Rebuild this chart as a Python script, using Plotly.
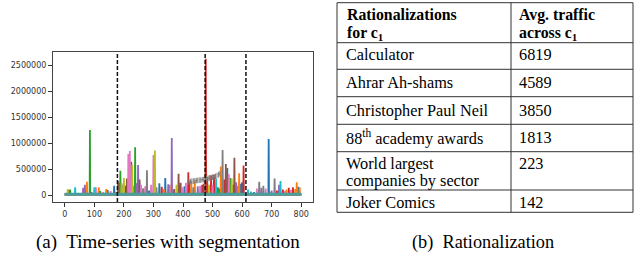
import plotly.graph_objects as go

W, H = 644, 258

# ---------------- time-series data (spike positions / heights per colour) ----------
blue_x = [145, 167, 285, 320, 340, 405, 422, 482, 518, 550, 595, 600, 640, 690, 790]
blue_y = [100000, 180000, 90000, 230000, 330000, 170000, 270000, 350000, 150000, 520000, 220000, 250000, 60000, 1080000, 160000]
orange_x = [75, 115, 140, 233, 335, 355, 428, 440, 528, 585, 590, 750, 780, 785, 795]
orange_y = [260000, 150000, 120000, 180000, 120000, 200000, 260000, 270000, 550000, 180000, 420000, 110000, 120000, 250000, 150000]
green_x = [18, 85, 120, 183, 188, 238, 478, 522, 560]
green_y = [110000, 1250000, 80000, 240000, 470000, 920000, 670000, 130000, 330000]
red_x = [175, 205, 328, 418, 465, 477, 495, 505, 540, 570, 605, 695, 718, 738, 758, 772]
red_y = [60000, 180000, 160000, 440000, 200000, 2620000, 380000, 390000, 300000, 200000, 570000, 50000, 90000, 110000, 140000, 150000]
purple_x = [62, 68, 197, 243, 248, 350, 362, 450, 580, 665, 700, 725]
purple_y = [140000, 200000, 200000, 230000, 580000, 210000, 1100000, 170000, 250000, 140000, 90000, 200000]
brown_x = [14, 90, 180, 210, 225, 253, 370, 385, 392, 470, 545, 574]
brown_y = [100000, 60000, 270000, 320000, 640000, 300000, 120000, 410000, 240000, 220000, 600000, 720000]
pink_x = [105, 130, 155, 215, 220, 258, 272, 292, 300, 398, 410, 458, 500, 555, 650, 680, 745, 765]
pink_y = [150000, 60000, 80000, 790000, 850000, 200000, 170000, 200000, 770000, 150000, 240000, 180000, 200000, 400000, 130000, 130000, 80000, 100000]
gray_x = [265, 278, 310, 435, 534, 658, 672, 710]
gray_y = [130000, 480000, 150000, 150000, 870000, 260000, 180000, 320000]
olive_x = [10, 192, 200, 228, 305, 378, 488, 565]
olive_y = [120000, 230000, 330000, 580000, 860000, 200000, 200000, 320000]
cyan_x = [35, 100, 512, 620, 630, 730]
cyan_y = [150000, 150000, 320000, 110000, 70000, 270000]

# slowly rising grey stretch around the middle boundary
trend_x = [420, 425, 430, 435, 440, 445, 450, 455, 460, 465, 470, 475, 480, 485, 490, 495, 500, 505, 510, 515, 520, 525]
trend_y = [255000, 262000, 268000, 270000, 276000, 280000, 283000, 287000, 290000, 296000, 300000, 310000, 318000, 325000, 332000, 338000, 345000, 352000, 362000, 375000, 395000, 412000]

segment_bounds = [178, 475, 613]

x_ticks = [0, 100, 200, 300, 400, 500, 600, 700, 800]
y_ticks = [0, 500000, 1000000, 1500000, 2000000, 2500000]
y_tick_labels = [str(v) for v in y_ticks]

# ---------------- table data ----------------
table_head_1 = ["Rationalizations", "for c<sub>1</sub>"]
table_head_2 = ["Avg. traffic", "across c<sub>1</sub>"]
rat_names = ["Calculator", "Ahrar Ah-shams", "Christopher Paul Neil",
             "88<sup>th</sup> academy awards", "World largest<br>companies by sector", "Joker Comics"]
rat_traffic = [6819, 4589, 3850, 1813, 223, 142]

captions = ["(a)  Time-series with segmentation", "(b)  Rationalization"]

# ---------------- build figure ----------------
series = [
    (blue_x, blue_y, "#1f77b4", 8000),
    (orange_x, orange_y, "#ff7f0e", 12000),
    (green_x, green_y, "#2ca02c", 16000),
    (red_x, red_y, "#d62728", 10000),
    (purple_x, purple_y, "#9467bd", 14000),
    (brown_x, brown_y, "#8c564b", 18000),
    (pink_x, pink_y, "#e377c2", 9000),
    (gray_x, gray_y, "#7f7f7f", 22000),
    (olive_x, olive_y, "#bcbd22", 15000),
    (cyan_x, cyan_y, "#17becf", 26000),
]

fig = go.Figure()


def spike_line(xs, ys, base):
    px, py = [0], [base]
    for x, y in sorted(zip(xs, ys)):
        px += [x - 1, x, x + 1]
        py += [base, y, base]
    px.append(800)
    py.append(base)
    return px, py


for xs, ys, col, base in series:
    px, py = spike_line(xs, ys, base)
    fig.add_trace(go.Scatter(x=px, y=py, mode="lines", line=dict(color=col, width=1.8),
                             showlegend=False, hoverinfo="skip"))

fig.add_trace(go.Scatter(x=trend_x, y=trend_y, mode="lines+markers",
                         line=dict(color="#7f7f7f", width=1.2, dash="dot"),
                         marker=dict(symbol="line-ns", size=4, line=dict(color="#7f7f7f", width=1)),
                         showlegend=False, hoverinfo="skip"))

# teal base band
fig.add_trace(go.Scatter(x=[0, 800], y=[20000, 20000], mode="lines",
                         line=dict(color="#4a9f9c", width=3), showlegend=False, hoverinfo="skip"))

for b in segment_bounds:
    fig.add_shape(type="line", xref="x", yref="y domain", x0=b, x1=b, y0=0, y1=1,
                  line=dict(color="#111111", width=1.5, dash="4px,2px"))

all_y = [v for s in series for v in s[1]] + trend_y + [0]
ymax, ymin = max(all_y), min(all_y)
pad = (ymax - ymin) * 0.05

px0, px1, py0, py1 = 53, 313, 52, 202
fig.update_layout(
    width=W, height=H, margin=dict(l=0, r=0, t=0, b=0, pad=0),
    paper_bgcolor="white", plot_bgcolor="white",
    xaxis=dict(domain=[px0 / W, px1 / W], range=[-40, 840], tickvals=x_ticks, automargin=False,
               ticks="outside", ticklen=4, tickcolor="#333", showgrid=False, zeroline=False,
               showline=True, mirror=True, linecolor="#444", linewidth=1,
               tickfont=dict(family="DejaVu Sans", size=8, color="#333")),
    yaxis=dict(domain=[1 - py1 / H, 1 - py0 / H], range=[ymin - pad, ymax + pad],
               tickvals=y_ticks, ticktext=y_tick_labels, automargin=False,
               ticks="outside", ticklen=4, tickcolor="#333", showgrid=False, zeroline=False,
               showline=True, mirror=True, linecolor="#444", linewidth=1,
               tickfont=dict(family="DejaVu Sans", size=8, color="#333")),
)

# ---------------- table drawn with shapes + text ----------------
tl, tr, tc = 337, 633, 511
row_lines = [2.7, 42.7, 69.3, 96.7, 124.3, 151.7, 190, 212.3]


def P(x, y):
    return x / W, 1 - y / H


line_style = dict(color="#333333", width=1)
for y in row_lines:
    x0, yy = P(tl, y)
    x1, _ = P(tr, y)
    fig.add_shape(type="line", xref="paper", yref="paper", x0=x0, x1=x1, y0=yy, y1=yy, line=line_style)
for x in [tl, tc, tr]:
    xx, y0 = P(x, row_lines[0])
    _, y1 = P(x, row_lines[-1])
    fig.add_shape(type="line", xref="paper", yref="paper", x0=xx, x1=xx, y0=y0, y1=y1, line=line_style)

serif = "Liberation Serif"


def txt(x, y, s, size=16.3, bold=False):
    xx, yy = P(x, y)
    fig.add_annotation(x=xx, y=yy, xref="paper", yref="paper", text=("<b>%s</b>" % s) if bold else s,
                       showarrow=False, xanchor="left", yanchor="middle", borderpad=0,
                       font=dict(family=serif, size=size, color="black"))


head_y = [15, 33]
for i in range(2):
    txt(346, head_y[i], table_head_1[i], 15.8, True)
    txt(518, head_y[i], table_head_2[i], 15.8, True)

row_y = [55, 82, 110, 137, 163, 202]
for i, (n, v) in enumerate(zip(rat_names, rat_traffic)):
    parts = n.split("<br>")
    for j, p in enumerate(parts):
        txt(345, row_y[i] + j * 17.5, p)
    txt(518, row_y[i], str(v))

# captions
txt(35, 242, captions[0], 19)
txt(411, 242, captions[1], 18.3)

fig.write_html("out.html", config={"displayModeBar": False},
               post_script="document.body.style.margin='0px';")
